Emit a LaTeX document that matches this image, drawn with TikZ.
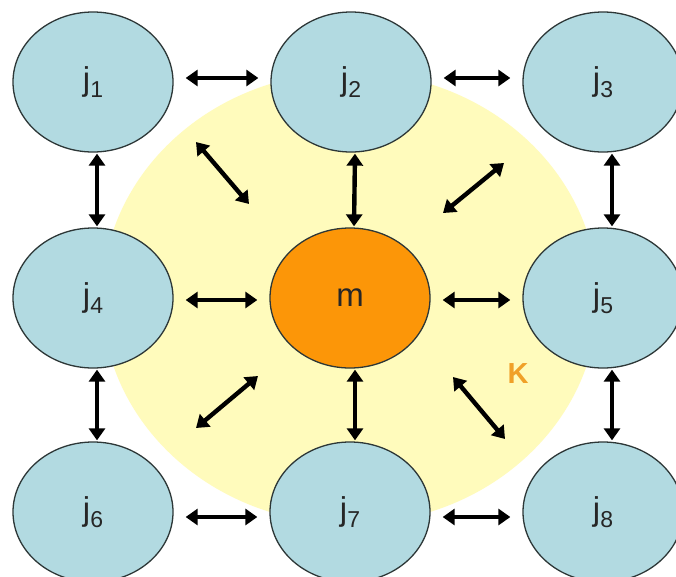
\documentclass[tikz,border=0pt]{standalone}
\usepackage{fontspec}
\setmainfont{Liberation Sans}
\usetikzlibrary{shapes.geometric,arrows.meta}
\definecolor{paleyellow}{RGB}{255,251,188}
\definecolor{nodeblue}{RGB}{178,218,225}
\definecolor{morange}{RGB}{252,150,8}
\definecolor{korange}{RGB}{240,160,40}
\definecolor{edgegray}{RGB}{45,55,55}
\newcommand{\jlab}[1]{j\raisebox{-7pt}{\fontsize{23}{23}\selectfont #1}}
\tikzset{
  jnode/.style={ellipse, draw=edgegray, line width=1.3pt, fill=nodeblue,
    minimum width=160pt, minimum height=140pt, inner sep=0pt,
    font=\fontsize{33}{33}\selectfont, text=black!85},
  mnode/.style={jnode, fill=morange},
  dblarrow/.style={line width=4.4pt,
    {Triangle[width=16pt,length=12pt]}-{Triangle[width=16pt,length=12pt]}},
  hgap/.style={shorten <=12pt, shorten >=12pt},
  vgap/.style={shorten <=1pt, shorten >=1pt}
}
\begin{document}
\begin{tikzpicture}[x=1pt,y=-1pt]
\clip (0,0) rectangle (676,576);
\fill[white] (0,0) rectangle (676,576);
% region K
\fill[paleyellow] (350,298) ellipse [x radius=248, y radius=226];
% nodes
\node[jnode] (j1) at (93,82) {\jlab{1}};
\node[jnode] (j2) at (351,82) {\jlab{2}};
\node[jnode] (j3) at (603,82) {\jlab{3}};
\node[jnode] (j4) at (93,298) {\jlab{4}};
\node[mnode] (m)  at (350,298) {m};
\node[jnode] (j5) at (603,298) {\jlab{5}};
\node[jnode] (j6) at (93,512) {\jlab{6}};
\node[jnode] (j7) at (350,512) {\jlab{7}};
\node[jnode] (j8) at (603,512) {\jlab{8}};
\node[font=\bfseries\fontsize{29}{29}\selectfont, text=korange] (K) at (518,374) {K};
% horizontal arrows
\draw[dblarrow,hgap] ([yshift=4pt]j1.east) -- ([yshift=4pt]j2.west);
\draw[dblarrow,hgap] ([yshift=4pt]j2.east) -- ([yshift=4pt]j3.west);
\draw[dblarrow,hgap] ([yshift=-2pt]j4.east) -- ([yshift=-2pt]m.west);
\draw[dblarrow,hgap] ([yshift=-2pt]m.east) -- ([yshift=-2pt]j5.west);
\draw[dblarrow,hgap] ([yshift=-5pt]j6.east) -- ([yshift=-5pt]j7.west);
\draw[dblarrow,hgap] ([yshift=-5pt]j7.east) -- ([yshift=-5pt]j8.west);
% vertical arrows
\draw[dblarrow,vgap] ([xshift=4pt]j1.south) -- ([xshift=4pt]j4.north);
\draw[dblarrow,vgap] ([xshift=4pt]j2.south) -- ([xshift=4pt]m.north);
\draw[dblarrow,vgap] ([xshift=9pt]j3.south) -- ([xshift=9pt]j5.north);
\draw[dblarrow,vgap] ([xshift=4pt]j4.south) -- ([xshift=4pt]j6.north);
\draw[dblarrow,vgap] ([xshift=5pt]m.south) -- ([xshift=5pt]j7.north);
\draw[dblarrow,vgap] ([xshift=9pt]j5.south) -- ([xshift=9pt]j8.north);
% diagonal arrows
\coordinate (nw1) at (196,142);
\coordinate (nw2) at (249,204);
\coordinate (ne1) at (504,163);
\coordinate (ne2) at (443,213);
\coordinate (sw1) at (258,376);
\coordinate (sw2) at (196,428);
\coordinate (se1) at (453,377);
\coordinate (se2) at (505,439);
\draw[dblarrow] (nw1) -- (nw2);
\draw[dblarrow] (ne1) -- (ne2);
\draw[dblarrow] (sw1) -- (sw2);
\draw[dblarrow] (se1) -- (se2);
\end{tikzpicture}
\end{document}
